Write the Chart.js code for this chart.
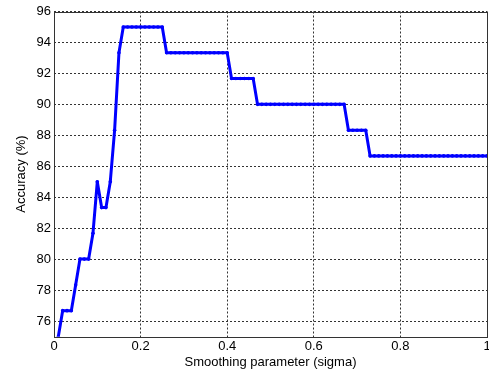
<!DOCTYPE html>
<html><head><meta charset="utf-8">
<script src="https://cdn.jsdelivr.net/npm/chart.js@4/dist/chart.umd.min.js"></script>
<style>html,body{margin:0;padding:0;background:#fff;}#wrap{width:489px;height:374px;}</style>
</head><body><div id="wrap"><canvas id="c" width="489" height="374"></canvas></div>
<script>
const sigma = [0.01,0.02,0.03,0.04,0.05,0.06,0.07,0.08,0.09,0.10,
  0.11,0.12,0.13,0.14,0.15,0.16,0.17,0.18,0.19,0.20,
  0.21,0.22,0.23,0.24,0.25,0.26,0.27,0.28,0.29,0.30,
  0.31,0.32,0.33,0.34,0.35,0.36,0.37,0.38,0.39,0.40,
  0.41,0.42,0.43,0.44,0.45,0.46,0.47,0.48,0.49,0.50,
  0.51,0.52,0.53,0.54,0.55,0.56,0.57,0.58,0.59,0.60,
  0.61,0.62,0.63,0.64,0.65,0.66,0.67,0.68,0.69,0.70,
  0.71,0.72,0.73,0.74,0.75,0.76,0.77,0.78,0.79,0.80,
  0.81,0.82,0.83,0.84,0.85,0.86,0.87,0.88,0.89,0.90,
  0.91,0.92,0.93,0.94,0.95,0.96,0.97,0.98,0.99,1.00];
const accuracy = [75.00,76.67,76.67,76.67,78.33,80.00,80.00,80.00,81.67,85.00,
  83.33,83.33,85.00,88.33,93.33,95.00,95.00,95.00,95.00,95.00,
  95.00,95.00,95.00,95.00,95.00,93.33,93.33,93.33,93.33,93.33,
  93.33,93.33,93.33,93.33,93.33,93.33,93.33,93.33,93.33,93.33,
  91.67,91.67,91.67,91.67,91.67,91.67,90.00,90.00,90.00,90.00,
  90.00,90.00,90.00,90.00,90.00,90.00,90.00,90.00,90.00,90.00,
  90.00,90.00,90.00,90.00,90.00,90.00,90.00,88.33,88.33,88.33,
  88.33,88.33,86.67,86.67,86.67,86.67,86.67,86.67,86.67,86.67,
  86.67,86.67,86.67,86.67,86.67,86.67,86.67,86.67,86.67,86.67,
  86.67,86.67,86.67,86.67,86.67,86.67,86.67,86.67,86.67,86.67];
const xTicks = [0,0.2,0.4,0.6,0.8,1];
const xTickLabels = ['0','0.2','0.4','0.6','0.8','1'];
const yTicks = [76,78,80,82,84,86,88,90,92,94,96];
const xLabel = 'Smoothing parameter (sigma)';
const yLabel = 'Accuracy (%)';

const FONT = {family:'"Liberation Sans", Arial, sans-serif', size:13};

const framePlugin = {
  id:'frame',
  afterDraw(chart){
    const {ctx, chartArea:a} = chart;
    ctx.save();
    ctx.strokeStyle = '#333';
    ctx.lineWidth = 1;
    ctx.strokeRect(Math.round(a.left)+0.5, Math.round(a.top)+0.5, Math.round(a.right-a.left), Math.round(a.bottom-a.top));
    ctx.restore();
  }
};
const bgPlugin = {
  id:'bg',
  beforeDraw(chart){
    const ctx = chart.ctx; ctx.save(); ctx.fillStyle='#fff'; ctx.fillRect(0,0,chart.width,chart.height); ctx.restore();
  }
};

new Chart(document.getElementById('c'), {
  type:'line',
  data:{datasets:[{
    data: sigma.map((s,i)=>({x:s,y:accuracy[i]})),
    borderColor:'#0000ff', backgroundColor:'#0000ff',
    borderWidth:3, pointRadius:1.8, pointBorderWidth:0, pointHoverRadius:1.8,
    borderJoinStyle:'round', borderCapStyle:'round',
    tension:0, fill:false
  }]},
  options:{
    responsive:false, animation:false, devicePixelRatio:1,
    layout:{padding:{top:11.5,right:2,left:0,bottom:0}},
    plugins:{legend:{display:false}, tooltip:{enabled:false}},
    events:[],
    scales:{
      x:{type:'linear', min:0, max:1,
        afterBuildTicks(s){ s.ticks = xTicks.map(v=>({value:v})); },
        afterFit(s){ s.height = 37.5; s.paddingLeft = 0; s.paddingRight = 0; },
        ticks:{font:FONT, color:'#000', padding:2, maxRotation:0, autoSkip:false,
          callback:(v,i)=>xTickLabels[i]},
        grid:{color:'#333', drawTicks:false, lineWidth:1},
        border:{display:false, dash:[2,2]},
        title:{display:true, text:xLabel, font:FONT, color:'#000', padding:{top:0,bottom:4}}
      },
      y:{type:'linear', min:75, max:96,
        afterBuildTicks(s){ s.ticks = yTicks.map(v=>({value:v})); },
        afterFit(s){ s.width = 54; },
        ticks:{font:FONT, color:'#000', padding:3, autoSkip:false,
          callback:(v)=>String(v)},
        grid:{color:'#333', drawTicks:false, lineWidth:1},
        border:{display:false, dash:[2,2]},
        title:{display:true, text:yLabel, font:FONT, color:'#000', padding:{top:14,bottom:0}}
      }
    }
  },
  plugins:[bgPlugin, framePlugin]
});
</script></body></html>
